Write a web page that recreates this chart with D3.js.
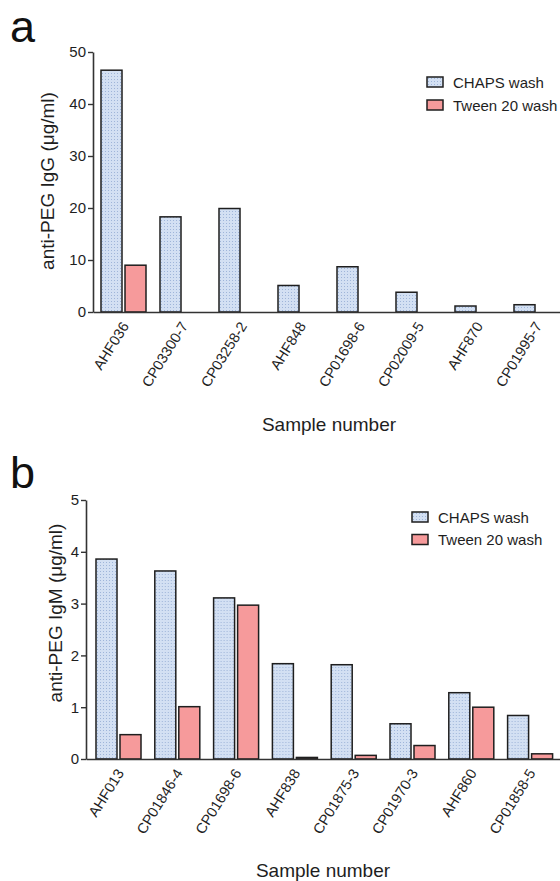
<!DOCTYPE html>
<html>
<head>
<meta charset="utf-8">
<script src="https://cdn.jsdelivr.net/npm/d3@7"></script>
<style>
  html, body { margin: 0; padding: 0; background: #fff; }
  svg { display: block; font-family: "Liberation Sans", Arial, Helvetica, sans-serif; }
</style>
</head>
<body>
<svg id="fig" width="560" height="881"></svg>
<script>
// Panel a: anti-PEG IgG
const samplesA = ["AHF036", "CP03300-7", "CP03258-2", "AHF848", "CP01698-6", "CP02009-5", "AHF870", "CP01995-7"];
const chapsA   = [46.5, 18.3, 19.9, 5.1, 8.7, 3.8, 1.15, 1.4];
const tweenA   = [9.0, null, null, null, null, null, null, null];
const ticksA   = [0, 10, 20, 30, 40, 50];

// Panel b: anti-PEG IgM
const samplesB = ["AHF013", "CP01846-4", "CP01698-6", "AHF838", "CP01875-3", "CP01970-3", "AHF860", "CP01858-5"];
const chapsB   = [3.86, 3.63, 3.11, 1.84, 1.82, 0.68, 1.28, 0.84];
const tweenB   = [0.47, 1.01, 2.97, 0.03, 0.07, 0.26, 1.00, 0.10];
const ticksB   = [0, 1, 2, 3, 4, 5];

const seriesNames = ["CHAPS wash", "Tween 20 wash"];

const INK = "#1e1e1e";
const AXIS = "#333";
const RED = "#f69a9b";

const svg = d3.select("#fig");

// dotted light-blue fill for the CHAPS bars
const defs = svg.append("defs");
const pat = defs.append("pattern")
  .attr("id", "dots").attr("patternUnits", "userSpaceOnUse")
  .attr("width", 3).attr("height", 3);
pat.append("rect").attr("width", 3).attr("height", 3).attr("fill", "#d3e0f3");
pat.append("rect").attr("x", 1).attr("y", 1).attr("width", 1).attr("height", 1).attr("fill", "#9fb5d9");

const fills = ["url(#dots)", RED];

function panel(cfg) {
  const g = svg.append("g");
  const rows = cfg.samples.map((s, i) => ({ s, v: [cfg.chaps[i], cfg.tween[i]] }));

  const y = d3.scaleLinear().domain([0, cfg.yMax]).range([cfg.y0, cfg.y1]);
  const x0 = d3.scaleBand().domain(cfg.samples).range(cfg.xRange)
    .paddingInner(cfg.padIn).paddingOuter(cfg.padOut);
  const x1 = d3.scaleBand().domain([0, 1]).range([0, x0.bandwidth()]).paddingInner(0.125);

  // bars
  const grp = g.selectAll("g.grp").data(rows).join("g")
    .attr("transform", d => `translate(${x0(d.s)},0)`);
  grp.selectAll("rect")
    .data(d => d.v.map((v, k) => ({ v, k })).filter(e => e.v != null))
    .join("rect")
    .attr("x", e => x1(e.k))
    .attr("width", x1.bandwidth())
    .attr("y", e => y(e.v))
    .attr("height", e => y(0) - y(e.v))
    .attr("fill", e => fills[e.k])
    .attr("stroke", INK)
    .attr("stroke-width", 1.5);

  // y axis
  const ya = g.append("g")
    .attr("transform", `translate(${cfg.xRange[0]},0)`)
    .call(d3.axisLeft(y).tickValues(cfg.ticks).tickFormat(d3.format("d")).tickSize(5).tickSizeOuter(0).tickPadding(2));
  ya.select(".domain").attr("stroke", AXIS).attr("stroke-width", 1.6);
  ya.selectAll(".tick line").attr("stroke", AXIS).attr("stroke-width", 1.4);
  ya.selectAll(".tick text").attr("fill", INK).attr("font-size", 15).attr("font-family", null);

  // x axis with slanted sample labels
  const xa = g.append("g")
    .attr("transform", `translate(0,${cfg.y0})`)
    .call(d3.axisBottom(x0).tickSize(0).tickSizeOuter(0).tickPadding(0));
  xa.select(".domain").attr("stroke", AXIS).attr("stroke-width", 1.6);
  xa.selectAll(".tick text")
    .attr("fill", INK).attr("font-size", 14.5).attr("font-family", null)
    .attr("text-anchor", "end").attr("dy", null).attr("y", 0)
    .attr("transform", "translate(6,14) rotate(-58)");

  // axis titles
  g.append("text")
    .attr("transform", `translate(${cfg.yTitleX},${cfg.yTitleY}) rotate(-90)`)
    .attr("text-anchor", "middle").attr("font-size", 19).attr("fill", INK)
    .text(cfg.yTitle);
  g.append("text")
    .attr("x", cfg.xTitleX).attr("y", cfg.xTitleY)
    .attr("text-anchor", "middle").attr("font-size", 19).attr("fill", INK)
    .text("Sample number");

  // panel letter
  g.append("text")
    .attr("x", 10).attr("y", cfg.letterY)
    .attr("font-size", 45).attr("fill", "#111")
    .text(cfg.letter);

  // legend
  const lg = g.append("g").attr("transform", `translate(${cfg.legX},${cfg.legY})`);
  const item = lg.selectAll("g").data(seriesNames).join("g")
    .attr("transform", (d, i) => `translate(0,${i * cfg.legStep})`);
  item.append("rect")
    .attr("x", 0).attr("y", 0).attr("width", 16).attr("height", 10)
    .attr("fill", (d, i) => fills[i]).attr("stroke", INK).attr("stroke-width", 1.5);
  item.append("text")
    .attr("x", 26).attr("y", 10.5)
    .attr("font-size", 15).attr("fill", INK)
    .text(d => d);
}

panel({
  letter: "a", letterY: 42,
  samples: samplesA, chaps: chapsA, tween: tweenA, ticks: ticksA, yMax: 50,
  y0: 312, y1: 52, xRange: [93, 567], padIn: 14 / 59, padOut: 8 / 59,
  yTitle: "anti-PEG IgG (\u03bcg/ml)", yTitleX: 54, yTitleY: 181,
  xTitleX: 329, xTitleY: 431,
  legX: 427, legY: 77, legStep: 23
});

panel({
  letter: "b", letterY: 488,
  samples: samplesB, chaps: chapsB, tween: tweenB, ticks: ticksB, yMax: 5,
  y0: 759, y1: 500, xRange: [86, 562.6], padIn: 13.8 / 58.8, padOut: 10 / 58.8,
  yTitle: "anti-PEG IgM (\u03bcg/ml)", yTitleX: 62, yTitleY: 613,
  xTitleX: 323, xTitleY: 877,
  legX: 412, legY: 512, legStep: 22.5
});
</script>
</body>
</html>
